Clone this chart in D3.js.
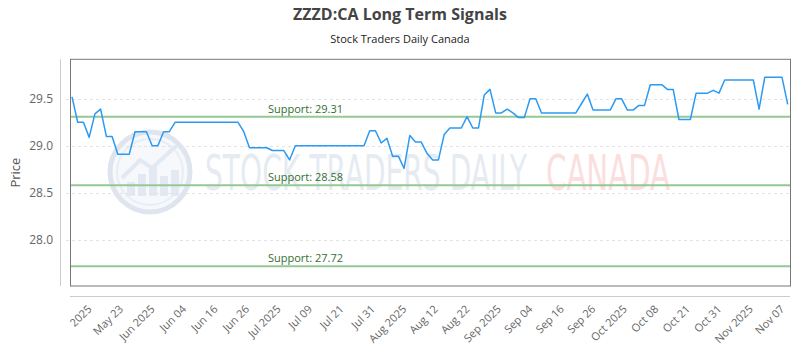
<!DOCTYPE html>
<html>
<head>
<meta charset="utf-8">
<script src="https://cdn.jsdelivr.net/npm/d3@7"></script>
<style>
  html, body { margin: 0; padding: 0; background: #fff; }
  svg { display: block; }
</style>
</head>
<body>
<script>
// ---- Data ----
const title = "ZZZD:CA Long Term Signals";
const subtitle = "Stock Traders Daily Canada";
const yTitle = "Price";

const prices = [
  29.52, 29.25, 29.25, 29.09, 29.34, 29.39, 29.10, 29.10, 28.91, 28.91,
  28.91, 29.15, 29.15, 29.15, 29.00, 29.00, 29.15, 29.15, 29.25, 29.25,
  29.25, 29.25, 29.25, 29.25, 29.25, 29.25, 29.25, 29.25, 29.25, 29.25,
  29.15, 28.98, 28.98, 28.98, 28.98, 28.95, 28.95, 28.95, 28.85, 29.00,
  29.00, 29.00, 29.00, 29.00, 29.00, 29.00, 29.00, 29.00, 29.00, 29.00,
  29.00, 29.00, 29.16, 29.16, 29.03, 29.08, 28.89, 28.89, 28.76, 29.11,
  29.04, 29.04, 28.92, 28.85, 28.85, 29.12, 29.19, 29.19, 29.19, 29.31,
  29.19, 29.19, 29.54, 29.60, 29.35, 29.35, 29.39, 29.35, 29.30, 29.30,
  29.50, 29.50, 29.35, 29.35, 29.35, 29.35, 29.35, 29.35, 29.35, 29.45,
  29.55, 29.38, 29.38, 29.38, 29.38, 29.50, 29.50, 29.38, 29.38, 29.43,
  29.43, 29.65, 29.65, 29.65, 29.60, 29.60, 29.28, 29.28, 29.28, 29.56,
  29.56, 29.56, 29.59, 29.56, 29.70, 29.70, 29.70, 29.70, 29.70, 29.70,
  29.39, 29.73, 29.73, 29.73, 29.73, 29.44
];

const xTickLabels = [
  "2025", "May 23", "Jun 2025", "Jun 04", "Jun 16", "Jun 26", "Jul 2025",
  "Jul 09", "Jul 21", "Jul 31", "Aug 2025", "Aug 12", "Aug 22", "Sep 2025",
  "Sep 04", "Sep 16", "Sep 26", "Oct 2025", "Oct 08", "Oct 21", "Oct 31",
  "Nov 2025", "Nov 07"
];
const xTickFirstIndex = 3;
const xTickLastIndex = 124;

const yTickValues = [28.0, 28.5, 29.0, 29.5];
const yDomain = [27.51, 29.92];

const supportLevels = [29.31, 28.58, 27.72];

// ---- Layout ----
const W = 800, H = 350;
const plot = { left: 70, right: 790, top: 59.3, bottom: 286 };

const svg = d3.select("body").append("svg")
  .attr("width", W).attr("height", H)
  .style("font-family", "'Open Sans', 'Noto Sans', sans-serif");

const x = d3.scaleLinear().domain([0, prices.length - 1]).range([72, 787.7]);
const y = d3.scaleLinear().domain(yDomain).range([plot.bottom, plot.top]);
const xTicks = d3.scalePoint().domain(xTickLabels)
  .range([x(xTickFirstIndex), x(xTickLastIndex)]);

// ---- Watermark ----
const wm = svg.append("g").attr("class", "watermark");
wm.append("circle").attr("cx", 150).attr("cy", 172).attr("r", 40)
  .attr("fill", "#f6f8fc").attr("stroke", "#dfe5ef").attr("stroke-width", 5);
wm.append("circle").attr("cx", 150).attr("cy", 172).attr("r", 33)
  .attr("fill", "none").attr("stroke", "#e8edf5").attr("stroke-width", 2);
[[127, 14], [138, 22], [149, 30], [160, 20], [171, 26]].forEach(([bx, bh]) => {
  wm.append("rect").attr("x", bx).attr("y", 196 - bh).attr("width", 8).attr("height", bh)
    .attr("fill", "#e3e9f2");
});
wm.append("path").attr("d", "M122,178 L140,160 L152,168 L176,146")
  .attr("fill", "none").attr("stroke", "#e3e9f2").attr("stroke-width", 4);
wm.append("text").attr("x", 205).attr("y", 190)
  .attr("textLength", 322).attr("lengthAdjust", "spacingAndGlyphs")
  .style("font-family", "'DejaVu Sans Condensed', 'DejaVu Sans', sans-serif")
  .style("font-size", "50px").attr("fill", "#e6ebf2")
  .text("STOCK TRADERS DAILY");
wm.append("text").attr("x", 546).attr("y", 190)
  .attr("textLength", 124).attr("lengthAdjust", "spacingAndGlyphs")
  .style("font-family", "'DejaVu Sans Condensed', 'DejaVu Sans', sans-serif")
  .style("font-size", "50px").attr("fill", "#fbdede")
  .text("CANADA");

// ---- Title ----
svg.append("text").attr("x", 400).attr("y", 20).attr("text-anchor", "middle")
  .style("font-size", "16px").style("font-weight", "bold").attr("fill", "#444")
  .text(title);
svg.append("text").attr("x", 400).attr("y", 43).attr("text-anchor", "middle")
  .style("font-size", "11px").attr("fill", "#222")
  .text(subtitle);

// ---- Grid ----
svg.append("g").selectAll("line").data(yTickValues).join("line")
  .attr("x1", 66).attr("x2", plot.right)
  .attr("y1", d => Math.round(y(d)) + 0.5).attr("y2", d => Math.round(y(d)) + 0.5)
  .attr("stroke", "#e3e3e3").attr("stroke-dasharray", "3,3");

// ---- Y axis ----
const yAxis = svg.append("g").attr("transform", `translate(${plot.left - 14},0)`)
  .call(d3.axisLeft(y).tickValues(yTickValues).tickFormat(d3.format(".1f")).tickSize(0).tickPadding(3));
yAxis.select(".domain").remove();
yAxis.selectAll("text").style("font-size", "12px").attr("fill", "#666")
  .style("font-family", "'Open Sans', sans-serif");
svg.append("line").attr("x1", 60.5).attr("x2", 60.5).attr("y1", plot.top).attr("y2", plot.bottom)
  .attr("stroke", "#ccc");

svg.append("text").attr("transform", `translate(20,${(plot.top + plot.bottom) / 2}) rotate(-90)`)
  .attr("text-anchor", "middle").style("font-size", "13px").attr("fill", "#555")
  .text(yTitle);

// ---- X axis ----
svg.append("line").attr("x1", plot.left).attr("x2", plot.right).attr("y1", 296.5).attr("y2", 296.5)
  .attr("stroke", "#ccc");
const xAxis = svg.append("g").attr("transform", `translate(0,307)`)
  .call(d3.axisBottom(xTicks).tickSize(0).tickPadding(0));
xAxis.select(".domain").remove();
xAxis.selectAll("text")
  .attr("y", 0).attr("x", 0).attr("dy", "0.35em")
  .attr("transform", "rotate(-45)")
  .style("text-anchor", "end").style("font-size", "11px").attr("fill", "#666")
  .style("font-family", "'Open Sans', sans-serif");

// ---- Support lines ----
const sup = svg.append("g");
sup.selectAll("line").data(supportLevels).join("line")
  .attr("x1", plot.left).attr("x2", plot.right)
  .attr("y1", d => y(d)).attr("y2", d => y(d))
  .attr("stroke", "#94c894").attr("stroke-width", 2);
sup.selectAll("text").data(supportLevels).join("text")
  .attr("x", 268).attr("y", d => y(d) - 4)
  .style("font-size", "11px").attr("fill", "#2f6f2f")
  .text(d => `Support: ${d.toFixed(2)}`);

// ---- Price line ----
svg.append("path").datum(prices)
  .attr("d", d3.line().x((d, i) => x(i)).y(d => y(d)))
  .attr("fill", "none").attr("stroke", "#2b9af3").attr("stroke-width", 1.5)
  .attr("stroke-linejoin", "round");

// ---- Plot border ----
svg.append("rect").attr("x", plot.left + 0.5).attr("y", plot.top)
  .attr("width", plot.right - plot.left).attr("height", plot.bottom - plot.top)
  .attr("fill", "none").attr("stroke", "#777");
</script>
</body>
</html>
